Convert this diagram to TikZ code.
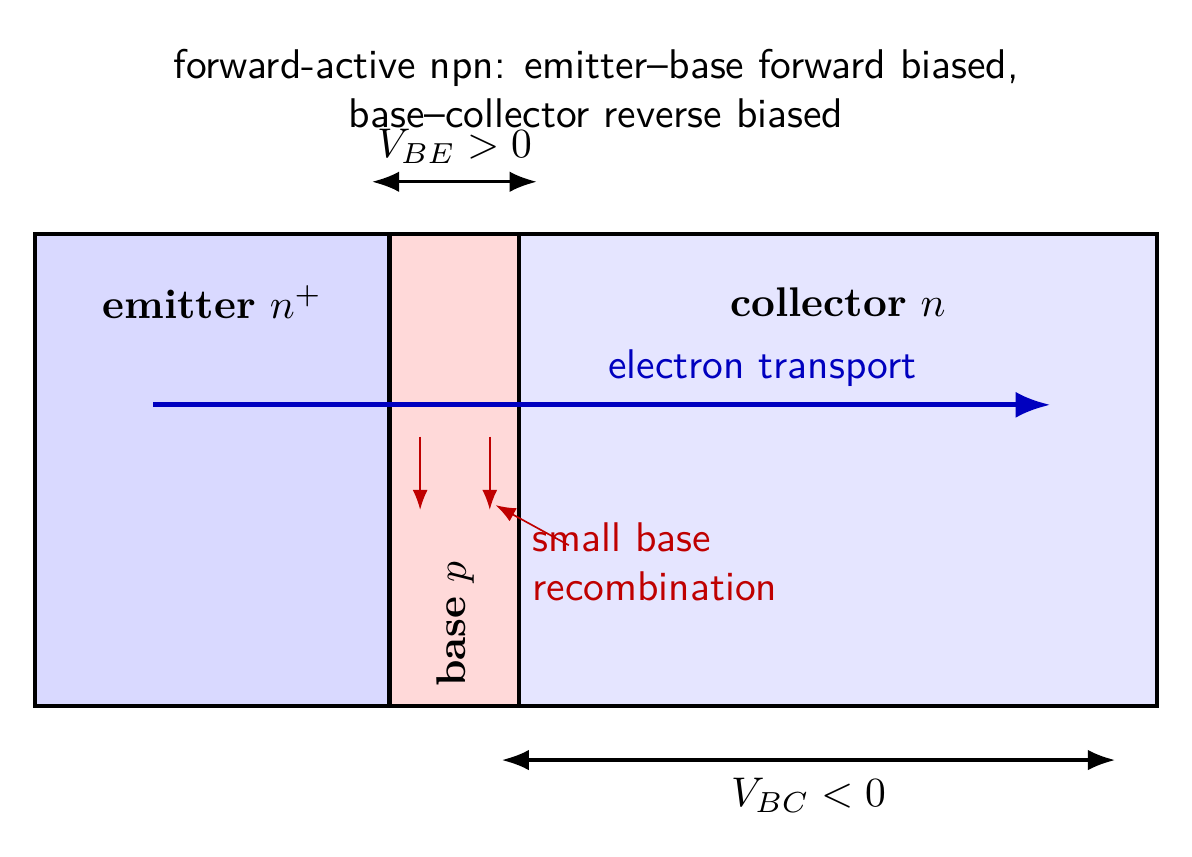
\documentclass[tikz,border=0pt]{standalone}
\usetikzlibrary{arrows.meta}
\tikzset{
	region/.style={draw=black, line width=1pt},
	bias/.style={{Latex}-{Latex}, thick},
	carrier/.style={-{Latex}, very thick, blue!75!black},
	recomb/.style={-{Latex}, red!75!black},
}
\begin{document}
\begin{tikzpicture}[scale=1]
	\useasboundingbox (-0.3,-1.28) rectangle (9.8,5.98);
	
	% Regions of the transistor
	\fill[blue!15] (0,0) rectangle (3,4);
	\fill[red!15] (3,0) rectangle (4.1,4);
	\fill[blue!10] (4.1,0) rectangle (9.5,4);
	\draw[region] (0,0) rectangle (9.5,4);
	\draw[region] (3,0) -- (3,4);
	\draw[region] (4.1,0) -- (4.1,4);
	
	% Region labels
	\node (emit) at (1.5,3.42) {$\textbf{emitter}\ n^+$};
	\node (coll) at (6.8,3.42) {$\textbf{collector}\ n$};
	\node[rotate=90] (base) at (3.56,0.69) {$\textbf{base}\ p$};
	
	% Title
	\node[align=center, font=\sffamily] (title) at (4.75,5.23)
	{forward-active npn: emitter--base forward biased,\\ base--collector reverse biased};
	
	% Electron flow through the base
	\coordinate (eL) at (1.0,2.55);
	\coordinate (eR) at (8.6,2.55);
	\draw[carrier] (eL) -- (eR);
	\node[font=\sffamily, text=blue!75!black] (etr) at (6.16,2.86) {electron transport};
	
	% Recombination in the base
	\foreach \x/\nm in {3.26/ra, 3.85/rb}{
		\coordinate (\nm top) at (\x,2.28);
		\coordinate (\nm) at (\x,1.66);
		\draw[recomb] (\nm top) -- (\nm);
	}
	\node[font=\sffamily, text=red!75!black, align=left, anchor=west] (rec) at (4.09,1.22)
	{small base\\ recombination};
	\coordinate (recA) at (4.52,1.36);
	\draw[recomb] (recA) -- (3.9,1.7);
	
	% Bias voltages
	\coordinate (beL) at (2.85,4.44);
	\coordinate (beR) at (4.25,4.44);
	\draw[bias] (beL) -- (beR);
	\node (vbe) at (3.55,4.74) {$V_{BE} > 0$};
	\coordinate (bcL) at (3.95,-0.46);
	\coordinate (bcR) at (9.15,-0.46);
	\draw[bias] (bcL) -- (bcR);
	\node (vbc) at (6.55,-0.76) {$V_{BC} < 0$};
\end{tikzpicture}
\end{document}
